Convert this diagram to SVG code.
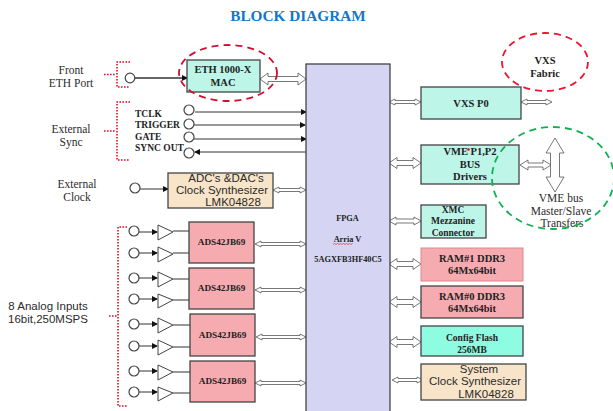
<svg xmlns="http://www.w3.org/2000/svg" width="613" height="411" viewBox="0 0 613 411">
<style>
.s{font-family:"Liberation Serif",serif;font-weight:bold;fill:#222;text-anchor:middle}
.r{font-family:"Liberation Serif",serif;fill:#2b2b2b;text-anchor:middle;font-size:11.5px}
.a{font-family:"Liberation Sans",sans-serif;fill:#2b2b2b;text-anchor:middle;font-size:11.5px}
.b{stroke:#444;stroke-width:1.3}
.c{fill:#fff;stroke:#444;stroke-width:1.2}
.l{stroke:#333;stroke-width:1;fill:none}
.da{fill:#fff;stroke:#555;stroke-width:.8}
.dot{fill:none;stroke:#e01020;stroke-width:1.6;stroke-dasharray:1.6 1.4}
.amp{fill:#fff;stroke:#444;stroke-width:1}
.mint{fill:#bdf6e9}.pink{fill:#f6abb0}.tan{fill:#f8e4c9}
</style>
<defs>
<marker id="h" markerWidth="6" markerHeight="6" refX="5" refY="3" orient="auto" markerUnits="userSpaceOnUse"><path d="M0 0L6 3L0 6Z" fill="#111"/></marker>
</defs>
<text x="298" y="21" text-anchor="middle" font-family="Liberation Serif,serif" font-weight="bold" font-size="15.300" fill="#1277c9">BLOCK DIAGRAM</text>

<g id="labels-left">
<text class="r" x="71" y="74">Front</text><text class="r" x="71" y="87">ETH Port</text>
<text class="r" x="71" y="133">External</text><text class="r" x="71" y="146">Sync</text>
<text class="r" x="77" y="188">External</text><text class="r" x="77" y="201">Clock</text>
<text class="a" x="48" y="310" font-size="12">8 Analog Inputs</text><text class="a" x="48" y="323" font-size="12">16bit,250MSPS</text>
</g>

<g id="brackets">
<path class="dot" d="M104 74.500H116M130 62H117V87H130"/>
<path class="dot" d="M104 131H115M130 102H117V160H130"/>
<path class="dot" d="M109 316H117M127 227H118V406H127"/>
</g>

<g id="connectors">
<path d="M135 78H187" stroke="#666" stroke-width="2" fill="none" marker-end="url(#h)"/>
<path class="l" d="M195 112H306" marker-end="url(#h)"/>
<path class="l" d="M194 125H305" marker-end="url(#h)"/>
<path class="l" d="M194 139H306" marker-end="url(#h)"/>
<path class="l" d="M306 152H195" marker-end="url(#h)"/>
<path class="l" d="M140 189H168" marker-end="url(#h)"/>
<path class="l" d="M139 232H157" marker-end="url(#h)"/><path class="l" d="M139 253H157" marker-end="url(#h)"/>
<path class="l" d="M139 278H157" marker-end="url(#h)"/><path class="l" d="M139 299H157" marker-end="url(#h)"/>
<path class="l" d="M139 324H157" marker-end="url(#h)"/><path class="l" d="M139 346H157" marker-end="url(#h)"/>
<path class="l" d="M139 371H157" marker-end="url(#h)"/><path class="l" d="M139 392H157" marker-end="url(#h)"/>
<path class="l" d="M173 231H189M173 253H189M173 279H189M173 300H189M173 325H190M173 347H190M173 372H190M173 393H190"/>
<polygon class="da" points="260,79 268,73 268,76.500 298,76.500 298,73 306,79 298,85 298,81.500 268,81.500 268,85"/>
<polygon class="da" points="273,190 279,187 279,188.500 300,188.500 300,187 306,190 300,193 300,191.500 279,191.500 279,193"/>
<polygon class="da" points="255,244 261,241 261,242.500 300,242.500 300,241 306,244 300,247 300,245.500 261,245.500 261,247"/>
<polygon class="da" points="255,290 261,287 261,288.500 300,288.500 300,287 306,290 300,293 300,291.500 261,291.500 261,293"/>
<polygon class="da" points="256,337 262,334 262,335.500 300,335.500 300,334 306,337 300,340 300,338.500 262,338.500 262,340"/>
<polygon class="da" points="255,383 261,380 261,381.500 300,381.500 300,380 306,383 300,386 300,384.500 261,384.500 261,386"/>
<polygon class="da" points="389,102 395,99 395,100.500 415,100.500 415,99 421,102 415,105 415,103.500 395,103.500 395,105"/>
<polygon class="da" points="521,102 527,99 527,100.500 546,100.500 546,99 552,102 546,105 546,103.500 527,103.500 527,105"/>
<polygon class="da" points="389,163 397,157.500 397,160.500 413,160.500 413,157.500 421,163 413,168.500 413,165.500 397,165.500 397,168.500"/>
<polygon class="da" points="520,165 528,160 528,163 543,163 543,160 551,165 543,170 543,167 528,167 528,170"/>
<polygon class="da" points="389,221 396,217 396,219 414,219 414,217 421,221 414,225 414,223 396,223 396,225"/>
<polygon class="da" points="389,264 397,258.500 397,261.500 413,261.500 413,258.500 421,264 413,269.500 413,266.500 397,266.500 397,269.500"/>
<polygon class="da" points="389,302 397,296.500 397,299.500 413,299.500 413,296.500 421,302 413,307.500 413,304.500 397,304.500 397,307.500"/>
<polygon class="da" points="389,342 397,336.500 397,339.500 413,339.500 413,336.500 421,342 413,347.500 413,344.500 397,344.500 397,347.500"/>
<polygon class="da" points="392,380 398,377 398,378.500 417,378.500 417,377 423,380 417,383 417,381.500 398,381.500 398,383"/>
<polygon class="da" points="555,138 564,153 559.500,153 559.500,177 564,177 555,192 546,177 550.500,177 550.500,153 546,153"/>
</g>

<g id="fpga"><rect class="b" x="306" y="64" width="84" height="350" fill="#d5d5f3"/>
<text class="s" x="347.500" y="221" font-size="8.300">FPGA</text><text class="s" x="347.500" y="242" font-size="8.300">Arria V</text><text class="s" x="348" y="262" font-size="8.300">5AGXFB3HF40C5</text>
<path d="M333 244.500l1.500-1 1.500 1 1.500-1 1.500 1 1.500-1 1.500 1 1.500-1 1.500 1 1.500-1 1.500 1 1.500-1 1.500 1 1.500-1" fill="none" stroke="#d03040" stroke-width=".7"/></g>

<g id="eth"><rect class="b mint" x="187" y="60" width="73" height="32"/>
<text class="s" x="223" y="73" font-size="10.500">ETH 1000-X</text><text class="s" x="223" y="86" font-size="10.500">MAC</text></g>

<g id="ports">
<circle class="c" cx="130" cy="78" r="4.800"/>
<circle class="c" cx="189" cy="110" r="5"/><circle class="c" cx="189" cy="124" r="5"/><circle class="c" cx="189" cy="137" r="5"/><circle class="c" cx="189" cy="153" r="5"/>
<circle class="c" cx="135" cy="188" r="5"/>
<circle class="c" cx="134" cy="231" r="5"/><circle class="c" cx="134" cy="253" r="5"/><circle class="c" cx="134" cy="278" r="5"/><circle class="c" cx="134" cy="299" r="5"/>
<circle class="c" cx="134" cy="324" r="5"/><circle class="c" cx="134" cy="346" r="5"/><circle class="c" cx="134" cy="371" r="5"/><circle class="c" cx="134" cy="392" r="5"/>
</g>
<g id="sync-labels">
<text class="s" x="135" y="117" font-size="9.500" style="text-anchor:start">TCLK</text>
<text class="s" x="135" y="128" font-size="9.500" style="text-anchor:start">TRIGGER</text>
<text class="s" x="135" y="140" font-size="9.500" style="text-anchor:start">GATE</text>
<text class="s" x="135" y="151" font-size="9.500" style="text-anchor:start">SYNC OUT</text>
</g>
<g id="amps">
<polygon class="amp" points="158,225 173,232 158,240"/><polygon class="amp" points="158,247 173,254 158,262"/>
<polygon class="amp" points="158,272 173,279 158,287"/><polygon class="amp" points="158,294 173,300 158,308"/>
<polygon class="amp" points="158,318 173,325 158,333"/><polygon class="amp" points="158,340 173,347 158,355"/>
<polygon class="amp" points="158,365 173,372 158,380"/><polygon class="amp" points="158,387 173,393 158,401"/>
</g>

<g id="adc-clock"><rect class="b tan" x="168" y="173" width="105" height="35"/>
<text class="a" x="226" y="182" font-size="10">ADC's &amp;DAC's</text><text class="a" x="222" y="194" font-size="9.800">Clock Synthesizer</text><text class="a" x="233" y="206" font-size="9.800">LMK04828</text></g>

<g id="adc0"><rect class="b pink" x="189" y="222" width="65" height="41"/><text class="s" x="221.500" y="245" font-size="9.200">ADS42JB69</text></g>
<g id="adc1"><rect class="b pink" x="189" y="268" width="65" height="41"/><text class="s" x="221.500" y="291" font-size="9.200">ADS42JB69</text></g>
<g id="adc2"><rect class="b pink" x="190" y="314" width="65" height="42"/><text class="s" x="222.500" y="338" font-size="9.200">ADS42JB69</text></g>
<g id="adc3"><rect class="b pink" x="190" y="361" width="65" height="41"/><text class="s" x="222.500" y="384" font-size="9.200">ADS42JB69</text></g>

<g id="vxs-p0"><rect class="b mint" x="421" y="87" width="100" height="32"/><text class="s" x="471" y="107" font-size="10.500">VXS P0</text></g>
<g id="vme"><rect class="b mint" x="421" y="145" width="98" height="39"/>
<text class="s" x="470" y="155" font-size="10.500">VME P1,P2</text><text class="s" x="470" y="168" font-size="10.500">BUS</text><text class="s" x="470" y="180" font-size="10.500">Drivers</text><circle cx="468.500" cy="149.500" r="1.300" fill="#e01020"/></g>
<g id="xmc"><rect class="b mint" x="421" y="205" width="65" height="33"/>
<text class="s" x="453" y="213" font-size="9.500">XMC</text><text class="s" x="453" y="224" font-size="9.500">Mezzanine</text><text class="s" x="453" y="236" font-size="9.500">Connector</text></g>
<g id="ram1"><rect class="pink" stroke="#d88" x="421" y="248" width="102" height="33"/><text class="s" x="472" y="262" font-size="10.500">RAM#1 DDR3</text><text class="s" x="472" y="274" font-size="10.400">64Mx64bit</text></g>
<g id="ram0"><rect class="b pink" x="421" y="286" width="102" height="32"/><text class="s" x="472" y="300" font-size="10.500">RAM#0 DDR3</text><text class="s" x="472" y="312" font-size="10.400">64Mx64bit</text></g>
<g id="flash"><rect class="b" fill="#8dfce0" x="421" y="326" width="102" height="30"/><text class="s" x="472" y="341" font-size="9.500">Config Flash</text><text class="s" x="472" y="353" font-size="9.500">256MB</text></g>
<g id="sys-clock"><rect class="b tan" x="421" y="364" width="105" height="36"/>
<text class="a" x="479" y="373" font-size="9.800">System</text><text class="a" x="475" y="385" font-size="9.800">Clock Synthesizer</text><text class="a" x="486" y="398" font-size="9.800">LMK04828</text></g>

<g id="vxs-fabric"><text class="s" x="545" y="64" font-size="10.500">VXS</text><text class="s" x="545" y="77" font-size="10.500">Fabric</text></g>
<g id="vme-bus"><text class="r" x="561" y="202" font-size="10">VME bus</text><text class="r" x="561" y="215" font-size="9.800">Master/Slave</text><text class="r" x="562" y="227" font-size="9.800">Transfers</text></g>

<g id="highlights" fill="none" stroke-width="1.800">
<ellipse cx="228" cy="73" rx="49" ry="28" stroke="#d01030" stroke-dasharray="7 5"/>
<ellipse cx="545" cy="62" rx="43" ry="29" stroke="#ee1530" stroke-dasharray="7 5"/>
<ellipse cx="553" cy="178" rx="61" ry="51" stroke="#10b050" stroke-dasharray="7 5"/>
</g>
</svg>
